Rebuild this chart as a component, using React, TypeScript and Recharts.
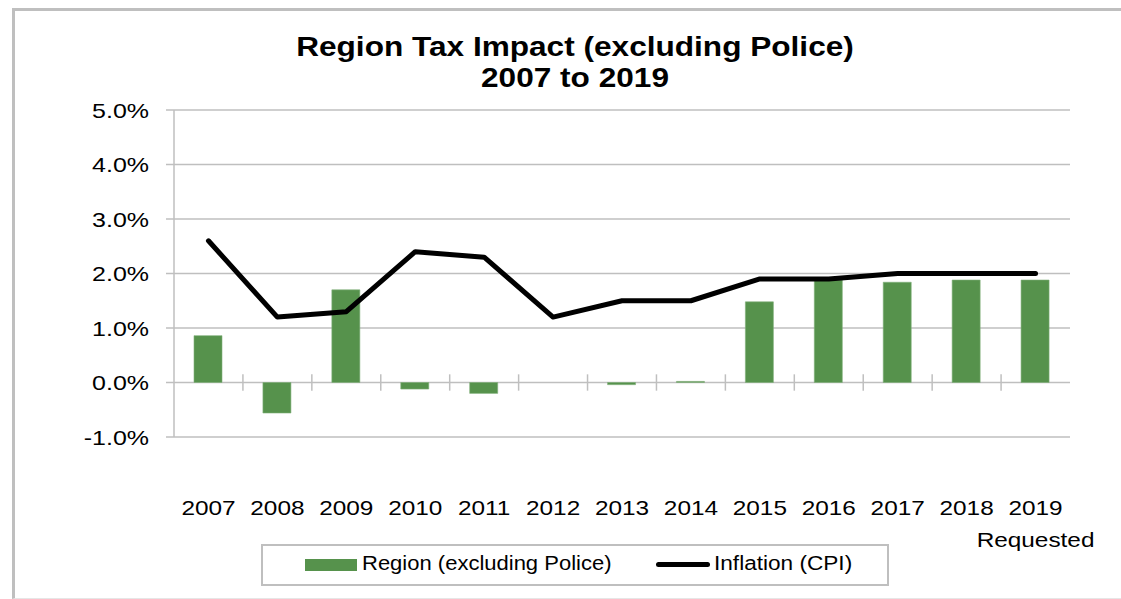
import React from 'react';
import { ComposedChart, Bar, Line, XAxis, YAxis, CartesianGrid, ReferenceLine } from 'recharts';

const years = ['2007', '2008', '2009', '2010', '2011', '2012', '2013', '2014', '2015', '2016', '2017', '2018', '2019'];
const yearNotes = ['', '', '', '', '', '', '', '', '', '', '', '', 'Requested'];
const regionImpact = [0.86, -0.56, 1.7, -0.12, -0.2, 0, -0.04, 0.02, 1.48, 1.88, 1.84, 1.88, 1.88];
const inflationCpi = [2.6, 1.2, 1.3, 2.4, 2.3, 1.2, 1.5, 1.5, 1.9, 1.9, 2.0, 2.0, 2.0];
const yTicks = [-1, 0, 1, 2, 3, 4, 5];

const data = years.map((year, i) => ({
  year,
  region: regionImpact[i],
  cpi: inflationCpi[i],
}));

const FONT = '"Liberation Sans", Arial, sans-serif';
const GRID = '#bfbfbf';
const GREEN = '#56924c';

const YearTick = (props: any) => {
  const { x, y, payload, index } = props;
  const note = yearNotes[index] || '';
  return (
    <g transform={`translate(${x},${y})`}>
      <text transform="scale(1.16,1)" y={76} textAnchor="middle" fontSize={21} fontFamily={FONT} fill="#000">
        {payload.value}
      </text>
      {note && (
        <text transform="scale(1.16,1)" y={108} textAnchor="middle" fontSize={21} fontFamily={FONT} fill="#000">
          {note}
        </text>
      )}
    </g>
  );
};

const PctTick = (props: any) => {
  const { x, y, payload } = props;
  return (
    <g transform={`translate(${x},${y})`}>
      <text transform="scale(1.19,1)" dy="0.36em" textAnchor="end" fontSize={21} fontFamily={FONT} fill="#000">
        {`${Number(payload.value).toFixed(1)}%`}
      </text>
    </g>
  );
};

export default function App() {
  return (
    <div style={{ position: 'relative', width: 1121, height: 599, background: '#fff', fontFamily: FONT }}>
      <style>{'body{margin:0}'}</style>
      <div
        style={{
          position: 'absolute',
          left: 12,
          top: 8,
          right: 0,
          bottom: 0,
          borderTop: `3px solid ${GRID}`,
          borderLeft: `3px solid ${GRID}`,
          borderBottom: '1px solid #e6e6e6',
        }}
      />
      <div
        style={{
          position: 'absolute',
          left: 0,
          width: 1150,
          top: 32,
          textAlign: 'center',
          fontWeight: 'bold',
          fontSize: 27,
          lineHeight: '31px',
        }}
      >
        <div style={{ transform: 'scaleX(1.17)' }}>Region Tax Impact (excluding Police)</div>
        <div style={{ transform: 'scaleX(1.17)' }}>2007 to 2019</div>
      </div>

      <div style={{ position: 'absolute', left: 0, top: 0 }}>
        <ComposedChart width={1121} height={599} data={data} margin={{ top: 110, right: 51, bottom: 82, left: 0 }}>
          <CartesianGrid vertical={false} stroke={GRID} strokeWidth={1.5} />
          <XAxis
            dataKey="year"
            axisLine={false}
            tickLine={false}
            tickSize={0}
            height={80}
            interval={0}
            tick={<YearTick />}
          />
          <YAxis
            domain={[-1, 5]}
            ticks={yTicks}
            width={174}
            tickSize={8}
            tickMargin={17}
            axisLine={{ stroke: GRID, strokeWidth: 1.5 }}
            tickLine={{ stroke: GRID, strokeWidth: 1.5 }}
            tick={<PctTick />}
          />
          <YAxis
            yAxisId="frame"
            orientation="right"
            domain={[-1, 5]}
            width={0}
            tick={false}
            tickLine={false}
            axisLine={{ stroke: GRID, strokeWidth: 1.5 }}
          />
          {years.slice(1).map((yr) => (
            <ReferenceLine
              key={yr}
              position="start"
              segment={[
                { x: yr, y: -0.15 },
                { x: yr, y: 0.15 },
              ]}
              stroke={GRID}
              strokeWidth={1.5}
            />
          ))}
          <Bar dataKey="region" fill={GREEN} stroke="#7fae78" strokeWidth={0.6} barSize={28} isAnimationActive={false} />
          <Line
            dataKey="cpi"
            stroke="#000"
            strokeWidth={5}
            strokeLinecap="round"
            strokeLinejoin="round"
            dot={false}
            activeDot={false}
            isAnimationActive={false}
          />
        </ComposedChart>
      </div>

      <div
        style={{
          position: 'absolute',
          left: 261,
          top: 544,
          width: 624,
          height: 38,
          border: `2px solid ${GRID}`,
          fontSize: 20,
        }}
      >
        <div style={{ position: 'absolute', left: 42, top: 13, width: 52, height: 12, background: GREEN }} />
        <div style={{ position: 'absolute', left: 99, top: 6, transform: 'scaleX(1.1)', transformOrigin: 'left' }}>
          Region (excluding Police)
        </div>
        <div style={{ position: 'absolute', left: 393, top: 16, width: 54, height: 5, background: '#000', borderRadius: 3 }} />
        <div style={{ position: 'absolute', left: 451, top: 6, transform: 'scaleX(1.13)', transformOrigin: 'left' }}>
          Inflation (CPI)
        </div>
      </div>
    </div>
  );
}
